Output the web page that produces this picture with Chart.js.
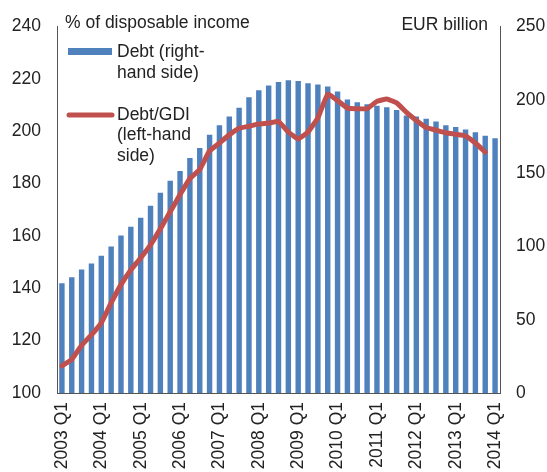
<!DOCTYPE html>
<html>
<head>
<meta charset="utf-8">
<style>
  html, body { margin: 0; padding: 0; background: #fff; }
  #wrap { width: 547px; height: 472px; position: relative; }
</style>
</head>
<body>
<div id="wrap"><canvas id="debtChart" width="547" height="472"></canvas></div>

<script src="https://cdn.jsdelivr.net/npm/chart.js"></script>
<script>
  const quarters = [];
  for (let y = 2003; y <= 2014; y++) {
    for (let q = 1; q <= 4; q++) {
      if (y === 2014 && q > 1) break;
      quarters.push(y + ' Q' + q);
    }
  }

  // EUR billion (right-hand side)
  const debt = [
    74.8, 78.9, 84.2, 88.4, 93.7, 99.9, 107.4, 113.4, 119.6, 127.7,
    136.6, 144.7, 151.5, 160.3, 167.1, 176.1, 182.6, 188.6, 194.5, 201.8,
    206.5, 209.8, 212.2, 213.3, 212.9, 211.3, 210.4, 209.1, 205.6, 200.2,
    198.3, 197, 195.9, 195, 193.1, 189.3, 188.6, 187, 185.2, 182.6,
    181.4, 179.8, 177.9, 175.5, 173.7
  ];

  // % of disposable income (left-hand side)
  const debtToGdi = [
    110.4, 112.8, 118.2, 122.2, 126.8, 134.4, 141.4, 147, 151.6, 156.6,
    162.7, 169.2, 175.8, 181.9, 185.4, 192.5, 195.5, 198.6, 201.1, 201.9,
    202.8, 203.1, 203.7, 199.7, 197, 199.7, 205.1, 214.2, 211.7, 208.8,
    208.6, 208.6, 211.4, 212.3, 210.8, 207.2, 204.1, 201.4, 200.4, 199.4,
    198.8, 198.2, 195.5, 192, null
  ];

  const blue = '#4F81BD';
  const red = '#C0504D';
  const font = { family: '"Liberation Sans", Arial, sans-serif', size: 17.5 };

  const notes = {
    id: 'notes',
    afterDraw(chart) {
      const c = chart.ctx;
      c.save();
      c.font = '17.5px "Liberation Sans", Arial, sans-serif';
      c.fillStyle = '#222';
      c.textBaseline = 'middle';
      c.textAlign = 'left';
      c.fillText('% of disposable income', 65, 23);
      c.textAlign = 'right';
      c.fillText('EUR billion', 488, 25);
      c.textAlign = 'left';
      // legend: bars
      c.fillStyle = blue;
      c.fillRect(68, 48, 44, 7);
      c.fillStyle = '#222';
      c.fillText('Debt (right-', 117, 52);
      c.fillText('hand side)', 117, 73);
      // legend: line
      c.strokeStyle = red;
      c.lineWidth = 5;
      c.lineCap = 'round';
      c.beginPath();
      c.moveTo(69, 115);
      c.lineTo(112, 115);
      c.stroke();
      c.fillText('Debt/GDI', 117, 115);
      c.fillText('(left-hand', 117, 135);
      c.fillText('side)', 117, 156);
      c.restore();
    }
  };

  new Chart(document.getElementById('debtChart'), {
    data: {
      labels: quarters,
      datasets: [
        {
          type: 'line',
          label: 'Debt/GDI (left-hand side)',
          data: debtToGdi,
          yAxisID: 'yLeft',
          borderColor: red,
          borderWidth: 5,
          borderJoinStyle: 'round',
          borderCapStyle: 'round',
          pointRadius: 0,
          tension: 0.1,
          fill: false,
          order: 0
        },
        {
          type: 'bar',
          label: 'Debt (right-hand side)',
          data: debt,
          yAxisID: 'yRight',
          backgroundColor: blue,
          barPercentage: 0.55,
          categoryPercentage: 1,
          order: 1
        }
      ]
    },
    options: {
      responsive: false,
      animation: false,
      layout: { padding: { top: 22, left: 0, right: 0, bottom: 0 } },
      plugins: { legend: { display: false }, tooltip: { enabled: false } },
      scales: {
        x: {
          grid: { display: false, drawTicks: false },
          border: { color: '#555', width: 1 },
          ticks: {
            autoSkip: false,
            maxRotation: 90,
            minRotation: 90,
            padding: 9,
            color: '#222',
            font: font,
            callback: function (v, i) { return i % 4 === 0 ? quarters[i] : ''; }
          },
          afterFit: s => { s.height = 79; }
        },
        yLeft: {
          position: 'left',
          min: 100,
          max: 240,
          grid: { display: false, drawTicks: false },
          border: { color: '#555', width: 1 },
          ticks: { stepSize: 20, padding: 16, color: '#222', font: font },
          afterFit: s => { s.width = 57; }
        },
        yRight: {
          position: 'right',
          min: 0,
          max: 250,
          grid: { display: false, drawTicks: false },
          border: { color: '#555', width: 1 },
          ticks: { stepSize: 50, padding: 16, color: '#222', font: font },
          afterFit: s => { s.width = 47; }
        }
      }
    },
    plugins: [notes]
  });
</script>
</body>
</html>
